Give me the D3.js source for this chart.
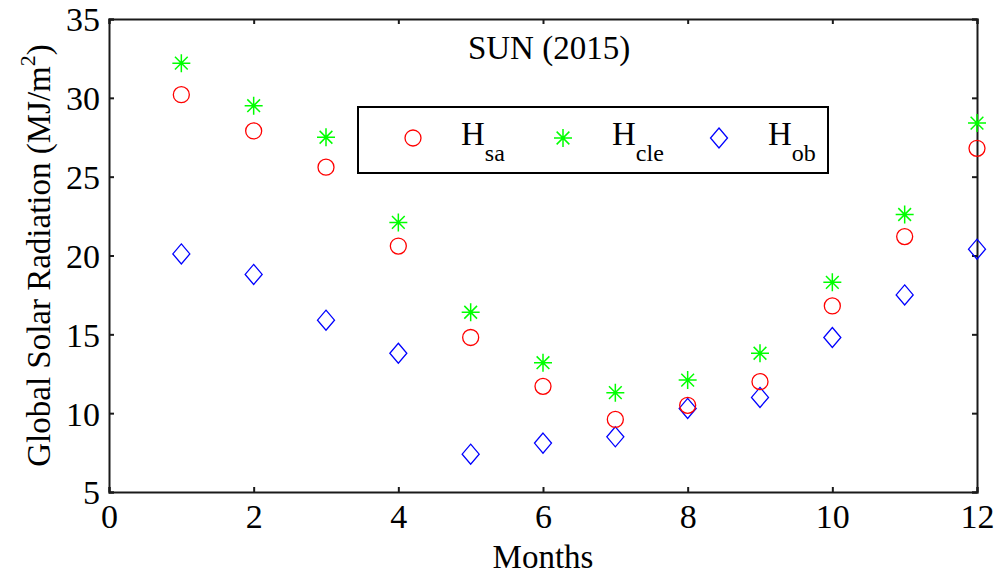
<!DOCTYPE html>
<html>
<head>
<meta charset="utf-8">
<script src="https://cdn.jsdelivr.net/npm/d3@7"></script>
<style>
  html, body { margin: 0; padding: 0; background: #fff; }
  svg { display: block; }
  svg text { font-family: "Liberation Serif", "Times New Roman", serif; fill: #000; }
</style>
</head>
<body>
<svg id="chart" width="995" height="576"></svg>
<script>
// Monthly global solar radiation (MJ/m^2), 2015
const months = [1, 2, 3, 4, 5, 6, 7, 8, 9, 10, 11, 12];
const hSa  = [30.2, 27.9, 25.6, 20.6, 14.8, 11.7, 9.6, 10.5, 12.0, 16.8, 21.2, 26.8];
const hCle = [32.2, 29.5, 27.5, 22.1, 16.4, 13.2, 11.3, 12.1, 13.8, 18.3, 22.6, 28.4];
const hOb  = [20.1, 18.8, 15.9, 13.8, 7.4, 8.1, 8.5, 10.3, 11.0, 14.8, 17.5, 20.4];
const xTicks = [0, 2, 4, 6, 8, 10, 12];
const yTicks = [5, 10, 15, 20, 25, 30, 35];

const serif = "'Liberation Serif', 'Times New Roman', serif";
const svg = d3.select("#chart");
const plotLeft = 109, plotRight = 977, plotTop = 19, plotBottom = 492;

const x = d3.scaleLinear().domain([0, 12]).range([plotLeft, plotRight]);
const y = d3.scaleLinear().domain([5, 35]).range([plotBottom, plotTop]);

const tickLen = 5;
const axisColor = "#1a1a1a";

// Axes: ticks inward on all four sides, MATLAB box style
const gx = svg.append("g").attr("transform", `translate(0,${plotBottom})`)
  .call(d3.axisBottom(x).tickValues(xTicks).tickSize(-tickLen).tickPadding(12).tickFormat(d3.format("d")));
const gxTop = svg.append("g").attr("transform", `translate(0,${plotTop})`)
  .call(d3.axisTop(x).tickValues(xTicks).tickSize(-tickLen).tickFormat(""));
const gy = svg.append("g").attr("transform", `translate(${plotLeft},0)`)
  .call(d3.axisLeft(y).tickValues(yTicks).tickSize(-tickLen).tickPadding(9).tickFormat(d3.format("d")));
const gyRight = svg.append("g").attr("transform", `translate(${plotRight},0)`)
  .call(d3.axisRight(y).tickValues(yTicks).tickSize(-tickLen).tickFormat(""));

[gx, gxTop, gy, gyRight].forEach(g => {
  g.attr("font-family", serif);
  g.select(".domain").attr("stroke", axisColor).attr("stroke-width", 2);
  g.selectAll(".tick line").attr("stroke", axisColor).attr("stroke-width", 2);
  g.selectAll(".tick text").attr("fill", "#000")
    .style("font-family", serif).style("font-size", "34px");
});
gx.selectAll(".tick text").attr("dy", "0.71em");
gy.selectAll(".tick text").attr("dy", "0.35em");

// Marker shapes
const circleR = 8;
function starPath(s) {
  const d = s * 0.7071;
  return `M${-s},0L${s},0M0,${-s}L0,${s}M${-d},${-d}L${d},${d}M${-d},${d}L${d},${-d}`;
}
function diamondPath(w, h) {
  return `M0,${-h}L${w},0L0,${h}L${-w},0Z`;
}

const plot = svg.append("g");

// H_ob diamonds
plot.selectAll(".ob").data(months).join("path")
  .attr("class", "ob")
  .attr("transform", (m, i) => `translate(${x(m)},${y(hOb[i])})`)
  .attr("d", diamondPath(8.5, 10))
  .attr("fill", "none").attr("stroke", "#0000ff").attr("stroke-width", 1.3);

// H_sa circles
plot.selectAll(".sa").data(months).join("circle")
  .attr("class", "sa")
  .attr("cx", m => x(m)).attr("cy", (m, i) => y(hSa[i])).attr("r", circleR)
  .attr("fill", "none").attr("stroke", "#ff0000").attr("stroke-width", 1.3);

// H_cle asterisks
plot.selectAll(".cle").data(months).join("path")
  .attr("class", "cle")
  .attr("transform", (m, i) => `translate(${x(m)},${y(hCle[i])})`)
  .attr("d", starPath(9))
  .attr("fill", "none").attr("stroke", "#00ff00").attr("stroke-width", 1.5);

// Title
svg.append("text").attr("x", 549).attr("y", 59).attr("text-anchor", "middle")
  .style("font-family", serif).style("font-size", "33px").text("SUN (2015)");

// Axis titles
svg.append("text").attr("x", 543).attr("y", 568).attr("text-anchor", "middle")
  .style("font-family", serif).style("font-size", "33px").text("Months");

const yl = svg.append("text")
  .attr("transform", `translate(50,${(plotTop + plotBottom) / 2}) rotate(-90)`)
  .attr("text-anchor", "middle").style("font-family", serif).style("font-size", "33px");
yl.append("tspan").text("Global Solar Radiation (MJ/m");
yl.append("tspan").attr("dy", -15).style("font-size", "22px").text("2");
yl.append("tspan").attr("dy", 15).text(")");

// Legend
const legend = svg.append("g");
legend.append("rect").attr("x", 358).attr("y", 107).attr("width", 470).attr("height", 66)
  .attr("fill", "#fff").attr("stroke", "#000").attr("stroke-width", 2);

const legendItems = [
  { key: "sa",  mx: 413, tx: 461 },
  { key: "cle", mx: 563, tx: 612 },
  { key: "ob",  mx: 719, tx: 768 }
];
const ly = 138;
legendItems.forEach(it => {
  if (it.key === "sa") {
    legend.append("circle").attr("cx", it.mx).attr("cy", ly).attr("r", circleR)
      .attr("fill", "none").attr("stroke", "#ff0000").attr("stroke-width", 1.3);
  } else if (it.key === "cle") {
    legend.append("path").attr("transform", `translate(${it.mx},${ly})`).attr("d", starPath(9))
      .attr("fill", "none").attr("stroke", "#00ff00").attr("stroke-width", 1.5);
  } else {
    legend.append("path").attr("transform", `translate(${it.mx},${ly})`).attr("d", diamondPath(8.5, 10))
      .attr("fill", "none").attr("stroke", "#0000ff").attr("stroke-width", 1.3);
  }
  const t = legend.append("text").attr("x", it.tx).attr("y", 145)
    .style("font-family", serif).style("font-size", "33px");
  t.append("tspan").text("H");
  t.append("tspan").attr("dy", 16).style("font-size", "24px").text(it.key);
});
</script>
</body>
</html>
